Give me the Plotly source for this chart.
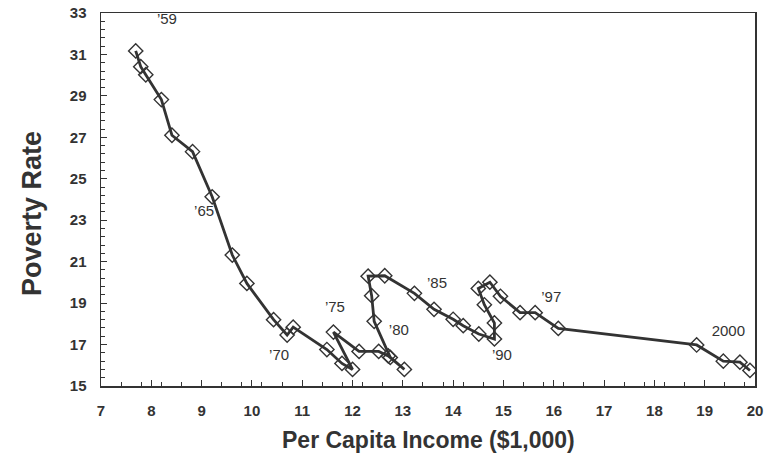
import plotly.graph_objects as go

# Per capita income ($1,000) and poverty rate
income = [7.69, 7.79, 7.89, 8.20, 8.41, 8.82, 9.21, 9.61, 9.90, 10.43,
          10.70, 10.82, 11.49, 11.79, 12.00, 11.62, 12.13, 12.52, 12.71, 13.03,
          12.75, 12.43, 12.38, 12.31, 12.64, 13.23, 13.62, 14.00, 14.20, 14.51,
          14.82, 14.82, 14.62, 14.50, 14.73, 14.94, 15.33, 15.63, 16.09,
          18.84, 19.37, 19.70, 19.90]
poverty = [31.17, 30.41, 30.02, 28.82, 27.10, 26.31, 24.13, 21.32, 19.95, 18.20,
           17.46, 17.84, 16.76, 16.09, 15.80, 17.60, 16.67, 16.67, 16.45, 15.80,
           16.38, 18.12, 19.36, 20.30, 20.32, 19.47, 18.70, 18.22, 17.91, 17.51,
           17.27, 18.04, 18.92, 19.71, 20.01, 19.33, 18.54, 18.54, 17.78,
           16.98, 16.20, 16.15, 15.75]

label_text = ["\u201959", "\u201965", "\u201970", "\u201975", "\u201980",
              "\u201985", "\u201990", "\u201997", "2000"]
label_x = [8.31, 9.05, 10.54, 11.65, 12.92, 13.68, 14.97, 15.95, 19.47]
label_y = [32.66, 23.40, 16.45, 18.76, 17.65, 19.92, 16.45, 19.25, 17.60]

x_ticks = list(range(7, 21))
y_ticks = list(range(15, 34, 2))

x_title = "Per Capita Income ($1,000)"
y_title = "Poverty Rate"

ink = "#333333"
font_family = "Liberation Sans, Arial, sans-serif"

fig = go.Figure()
fig.add_trace(go.Scatter(
    x=income, y=poverty, mode="lines+markers",
    line=dict(color=ink, width=2.8),
    marker=dict(symbol="diamond-open", size=11, color=ink, line=dict(width=1.4, color=ink)),
    showlegend=False, hoverinfo="skip",
))
fig.add_trace(go.Scatter(
    x=label_x, y=label_y, mode="text", text=label_text,
    textfont=dict(family=font_family, size=15, color=ink),
    showlegend=False, hoverinfo="skip",
))

fig.update_layout(
    width=764, height=459,
    margin=dict(l=101, r=9, t=13, b=73, autoexpand=False),
    paper_bgcolor="white", plot_bgcolor="white",
    font=dict(family=font_family, color=ink),
    annotations=[
        dict(text="<b>" + x_title + "</b>", xref="paper", yref="paper",
             x=0.5, y=-0.145, xanchor="center", yanchor="middle", showarrow=False,
             font=dict(family=font_family, size=23, color=ink)),
        dict(text="<b>" + y_title + "</b>", xref="paper", yref="paper",
             x=-0.1055, y=0.461, xanchor="center", yanchor="middle", showarrow=False,
             textangle=-90, font=dict(family=font_family, size=27, color=ink)),
    ],
)
fig.update_xaxes(
    range=[7, 20], tickvals=x_ticks, ticktext=[str(v) for v in x_ticks],
    automargin=False,
    showgrid=False, zeroline=False,
    showline=True, linecolor=ink, linewidth=1.5, mirror=True,
    ticks="inside", ticklen=6, tickwidth=1, tickcolor=ink,
    minor=dict(tick0=7, dtick=0.4, ticks="inside", ticklen=4, tickcolor=ink, showgrid=False),
    tickfont=dict(family=font_family, size=15, color=ink, weight="bold"),
    ticklabelstandoff=10,
)
fig.update_yaxes(
    range=[15, 33], tickvals=y_ticks, ticktext=[str(v) for v in y_ticks],
    automargin=False,
    showgrid=False, zeroline=False,
    showline=True, linecolor=ink, linewidth=1.5, mirror=True,
    ticks="inside", ticklen=6, tickwidth=1, tickcolor=ink,
    minor=dict(tick0=15, dtick=0.4, ticks="inside", ticklen=4, tickcolor=ink, showgrid=False),
    tickfont=dict(family=font_family, size=15, color=ink, weight="bold"),
    ticklabelstandoff=10,
)

fig.write_html(
    "out.html",
    config={"displayModeBar": False, "staticPlot": True},
    post_script="document.body.style.margin='0';document.body.style.padding='0';document.body.style.overflow='hidden';",
)
